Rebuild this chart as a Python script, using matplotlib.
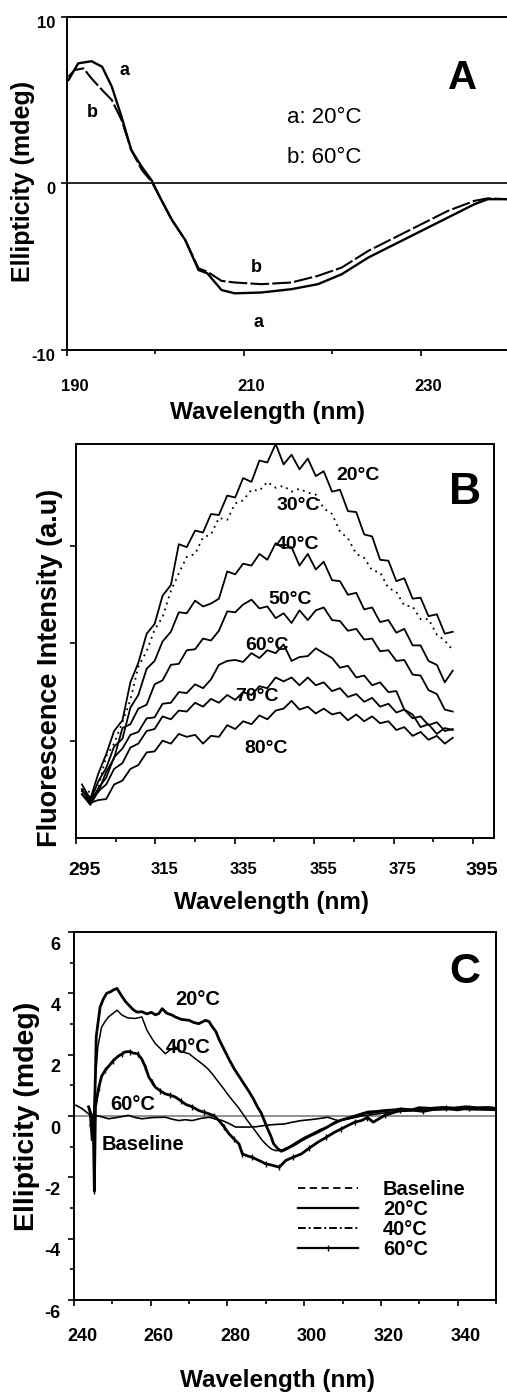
import numpy as np
import matplotlib
matplotlib.use("Agg")
import matplotlib.pyplot as plt
import matplotlib.transforms as mtrans
from matplotlib.lines import Line2D

plt.rcParams['font.family'] = ['Liberation Sans', 'DejaVu Sans']
plt.rcParams['font.weight'] = 'bold'
plt.rcParams['axes.labelweight'] = 'bold'
plt.rcParams['axes.unicode_minus'] = False

# ---------------- Panel A data (far-UV CD) ----------------
A_WL_20 = [190.2, 191.3, 192.8, 194.0, 195.1, 196.2, 197.3, 198.5, 199.6, 200.7, 201.9, 203.4,
           204.9, 205.9, 207.5, 209.0, 212.0, 215.4, 218.4, 221.1, 224.1, 227.1, 230.1, 233.1,
           236.1, 237.6, 240.0]
A_20C = [6.2, 7.2, 7.33, 7.0, 5.8, 4.0, 2.0, 0.98, 0.18, -1.0, -2.2, -3.4,
         -5.2, -5.4, -6.4, -6.6, -6.55, -6.35, -6.05, -5.45, -4.45, -3.65, -2.85, -2.05,
         -1.25, -0.95, -0.95]
A_WL_60 = [190.2, 190.9, 191.9, 192.8, 194.0, 195.1, 196.2, 197.3, 198.5, 199.6, 200.7, 201.9,
           203.4, 204.9, 205.9, 207.5, 209.0, 212.0, 215.4, 218.4, 221.1, 224.1, 227.1, 230.1,
           233.1, 236.1, 237.6, 240.0]
A_60C = [6.4, 6.8, 6.9, 6.3, 5.6, 5.0, 3.8, 2.0, 0.8, 0.1, -1.0, -2.2,
         -3.4, -5.1, -5.3, -5.85, -5.95, -6.05, -5.95, -5.55, -5.05, -4.05, -3.25, -2.45,
         -1.65, -1.05, -0.9, -0.95]

# ---------------- Panel B data (fluorescence) ----------------
B_WL = [296.5, 298.6, 300.6, 302.6, 304.6, 306.7, 308.7, 310.7, 312.8, 314.8, 316.8, 318.9,
        320.9, 322.9, 325.0, 327.0, 329.0, 331.0, 333.1, 335.1, 337.1, 339.2, 341.2, 343.2,
        345.3, 347.3, 349.3, 351.3, 353.4, 355.4, 357.4, 359.5, 361.5, 363.5, 365.6, 367.6,
        369.6, 371.6, 373.7, 375.7, 377.7, 379.8, 381.8, 383.8, 385.9, 387.9, 389.9]
B_20C = [0.55, 0.40, 0.66, 0.86, 1.10, 1.21, 1.60, 1.80, 2.10, 2.20, 2.49, 2.60, 3.02, 2.99, 3.16, 3.14,
         3.33, 3.32, 3.52, 3.50, 3.70, 3.66, 3.88, 3.86, 4.05, 3.84, 3.94, 3.79, 3.90, 3.72, 3.77, 3.56,
         3.58, 3.36, 3.35, 3.12, 3.10, 2.86, 2.85, 2.64, 2.67, 2.46, 2.47, 2.28, 2.30, 2.10, 2.12]
B_30C = [0.50, 0.47, 0.52, 0.84, 0.97, 1.19, 1.42, 1.76, 1.92, 2.14, 2.27, 2.54, 2.72, 2.89, 2.92, 3.09,
         3.12, 3.29, 3.27, 3.44, 3.47, 3.58, 3.57, 3.66, 3.60, 3.62, 3.56, 3.59, 3.55, 3.53, 3.39, 3.33,
         3.15, 3.08, 2.92, 2.88, 2.75, 2.73, 2.57, 2.53, 2.39, 2.38, 2.25, 2.25, 2.09, 2.03, 1.93]
B_40C = [0.50, 0.38, 0.58, 0.72, 0.94, 1.02, 1.34, 1.47, 1.74, 1.82, 2.02, 2.12, 2.32, 2.31, 2.44, 2.38,
         2.41, 2.46, 2.74, 2.71, 2.82, 2.80, 2.92, 2.86, 3.03, 2.98, 2.99, 2.80, 2.92, 2.76, 2.84, 2.65,
         2.64, 2.50, 2.52, 2.35, 2.37, 2.22, 2.24, 2.11, 2.15, 1.98, 1.98, 1.82, 1.78, 1.60, 1.72]
B_50C = [0.48, 0.42, 0.47, 0.68, 0.82, 1.13, 1.17, 1.33, 1.37, 1.58, 1.62, 1.78, 1.79, 1.93, 1.94, 2.05,
         2.03, 2.13, 2.33, 2.32, 2.40, 2.45, 2.36, 2.38, 2.26, 2.31, 2.21, 2.34, 2.24, 2.34, 2.37, 2.24,
         2.23, 2.13, 2.15, 2.04, 2.05, 1.92, 1.93, 1.82, 1.83, 1.68, 1.67, 1.52, 1.48, 1.32, 1.30]
B_60C = [0.45, 0.36, 0.51, 0.62, 0.83, 0.92, 1.06, 1.09, 1.23, 1.24, 1.38, 1.39, 1.50, 1.49, 1.58, 1.54,
         1.63, 1.78, 1.82, 1.83, 1.81, 1.90, 1.85, 1.93, 1.90, 1.99, 1.82, 1.86, 1.87, 1.95, 1.90, 1.85,
         1.75, 1.77, 1.65, 1.67, 1.57, 1.60, 1.50, 1.51, 1.32, 1.27, 1.14, 1.17, 1.07, 1.13, 1.11]
B_70C = [0.45, 0.34, 0.48, 0.55, 0.71, 0.77, 0.93, 0.97, 1.10, 1.12, 1.25, 1.22, 1.31, 1.30, 1.39, 1.35,
         1.43, 1.39, 1.47, 1.42, 1.50, 1.47, 1.56, 1.54, 1.65, 1.61, 1.65, 1.57, 1.65, 1.57, 1.60, 1.51,
         1.54, 1.45, 1.48, 1.40, 1.44, 1.35, 1.38, 1.29, 1.32, 1.23, 1.25, 1.16, 1.19, 1.10, 1.12]
B_80C = [0.50, 0.36, 0.39, 0.40, 0.55, 0.59, 0.71, 0.75, 0.88, 0.89, 1.00, 0.97, 1.07, 1.04, 1.06, 0.97,
         1.05, 1.04, 1.16, 1.12, 1.20, 1.17, 1.26, 1.22, 1.31, 1.33, 1.41, 1.32, 1.35, 1.28, 1.33, 1.27,
         1.29, 1.21, 1.27, 1.20, 1.25, 1.18, 1.20, 1.11, 1.14, 1.05, 1.09, 1.01, 1.05, 0.97, 1.03]
B_LABELS = ['20°C', '30°C', '40°C', '50°C', '60°C', '70°C', '80°C']
B_XTICKS = [295, 315, 335, 355, 375, 395]

# ---------------- Panel C data (near-UV CD) ----------------
C_WL_20 = [243.8, 244.6, 245.0, 245.4, 245.8, 246.8, 247.6, 248.5, 249.5, 250.4, 251.2, 252.5,
           253.5, 254.7, 255.6, 256.4, 257.7, 259.0, 260.2, 261.2, 262.1, 263.0, 264.2, 265.4,
           266.4, 268.0, 270.0, 271.2, 272.5, 274.3, 275.2, 276.0, 277.0, 277.8, 279.0, 280.4,
           281.7, 283.0, 284.3, 285.6, 286.8, 287.8, 288.8, 289.6, 290.4, 291.3, 292.0, 293.0,
           294.0, 295.0, 296.5, 298.0, 299.2, 301.0, 303.5, 305.5, 307.9, 310.0, 312.2, 314.5,
           316.6, 319.0, 321.0, 323.5, 325.3, 328.0, 330.0, 333.0, 336.0, 339.0, 342.0, 345.0,
           348.0, 350.0]
C_20C = [0.3, 0.0, -0.6, 0.4, 2.6, 3.55, 3.8, 4.0, 4.05, 4.12, 4.16, 3.9,
         3.72, 3.56, 3.45, 3.39, 3.4, 3.33, 3.38, 3.3, 3.34, 3.5, 3.35, 3.3,
         3.23, 3.15, 3.12, 3.05, 3.01, 3.12, 3.08, 2.92, 2.75, 2.5, 2.2, 1.85,
         1.55, 1.3, 1.05, 0.8, 0.55, 0.3, 0.1, -0.15, -0.4, -0.65, -0.9, -1.05,
         -1.15, -1.1, -1.0, -0.9, -0.8, -0.68, -0.53, -0.4, -0.22, -0.12, -0.04, 0.05,
         0.13, 0.15, 0.18, 0.2, 0.23, 0.2, 0.27, 0.25, 0.28, 0.26, 0.3, 0.27,
         0.28, 0.25]
C_WL_40 = [244.0, 244.6, 245.2, 245.6, 246.2, 247.2, 248.2, 249.0, 250.2, 251.2, 252.5, 254.0,
           256.0, 257.7, 259.0, 260.2, 261.2, 262.5, 263.8, 265.0, 266.4, 268.0, 270.0, 271.5,
           273.4, 274.8, 276.0, 277.4, 278.7, 280.0, 281.3, 282.7, 284.0, 285.2, 286.5, 287.8,
           289.1, 290.5, 291.5, 292.6, 294.0, 296.1, 298.0, 300.0, 302.0, 304.0, 306.0, 308.0,
           310.0, 312.0, 314.0, 316.0, 318.0, 320.0, 323.0, 326.0, 330.0, 334.0, 338.0, 342.0,
           346.0, 350.0]
C_40C = [0.2, -0.8, 0.2, 1.2, 2.25, 2.9, 3.1, 3.23, 3.35, 3.45, 3.29, 3.2,
         3.18, 3.23, 2.8, 2.55, 2.36, 2.2, 2.03, 2.15, 2.25, 2.1, 2.03, 1.88,
         1.7, 1.55, 1.38, 1.15, 0.94, 0.72, 0.51, 0.3, 0.07, -0.15, -0.36, -0.58,
         -0.8, -0.98, -1.08, -1.13, -1.12, -1.0, -0.85, -0.7, -0.58, -0.45, -0.35, -0.25,
         -0.12, -0.05, 0.0, 0.08, 0.1, 0.14, 0.18, 0.2, 0.22, 0.25, 0.24, 0.28,
         0.25, 0.22]
C_WL_60 = [244.4, 245.0, 245.3, 245.6, 246.4, 247.2, 248.2, 249.0, 250.2, 251.5, 252.5, 253.3,
           254.5, 255.5, 256.6, 257.7, 258.6, 259.5, 260.4, 261.2, 262.5, 263.8, 265.0, 266.4,
           267.8, 269.1, 270.8, 272.5, 274.0, 275.2, 276.5, 277.8, 279.1, 280.4, 281.7, 283.0,
           283.9, 285.2, 286.5, 288.2, 290.0, 291.5, 293.5, 295.2, 297.0, 299.2, 301.3, 303.5,
           305.7, 307.9, 309.7, 311.4, 313.2, 314.9, 316.5, 318.0, 321.0, 323.0, 325.0, 328.0,
           331.0, 334.0, 337.0, 340.0, 343.0, 346.0, 350.0]
C_60C = [-0.3, 0.0, -2.45, 0.3, 0.9, 1.3, 1.5, 1.62, 1.8, 1.95, 2.02, 2.09,
         2.1, 2.05, 2.03, 1.85, 1.6, 1.27, 1.1, 0.94, 0.82, 0.72, 0.68, 0.62,
         0.5, 0.38, 0.3, 0.18, 0.12, 0.07, 0.0, -0.15, -0.35, -0.58, -0.75, -0.91,
         -1.24, -1.3, -1.35, -1.45, -1.56, -1.6, -1.67, -1.45, -1.35, -1.24, -1.05, -0.86,
         -0.7, -0.53, -0.42, -0.31, -0.2, -0.15, -0.05, -0.2, 0.02, 0.1, 0.18, 0.2,
         0.15, 0.22, 0.25, 0.2, 0.27, 0.24, 0.2]
C_WL_BASE = [240.5, 242.0, 243.5, 244.6, 245.5, 247.0, 249.0, 251.6, 254.2, 256.0, 257.7, 260.5,
             263.8, 265.5, 267.3, 269.0, 270.8, 273.0, 275.2, 277.0, 278.7, 280.5, 282.1, 284.0,
             285.6, 287.5, 289.6, 292.0, 294.8, 297.0, 299.2, 301.5, 303.5, 306.1, 308.8, 311.4,
             314.9, 318.0, 321.0, 325.0, 330.0, 335.0, 340.0, 345.0, 350.0]
C_BASE = [0.35, 0.25, 0.1, 0.0, 0.02, -0.02, -0.09, -0.04, 0.02, -0.05, -0.09, -0.05,
          -0.04, -0.1, -0.15, -0.12, -0.15, -0.08, -0.04, -0.1, -0.15, -0.25, -0.36, -0.36,
          -0.36, -0.35, -0.31, -0.28, -0.26, -0.2, -0.15, -0.12, -0.09, -0.04, -0.15, -0.1,
          0.0, 0.05, 0.1, 0.15, 0.18, 0.2, 0.22, 0.2, 0.2]
C_LEGEND = ['Baseline', '20°C', '40°C', '60°C']

# ---------------- figure ----------------
W, H = 507, 1393
fig = plt.figure(figsize=(W / 100, H / 100), dpi=100)


def rect(l, r, t, b):
    return [l / W, 1 - b / H, (r - l) / W, (b - t) / H]


def shift_ticklabels(labels, dx, dy):
    off = mtrans.ScaledTranslation(dx / 100, -dy / 100, fig.dpi_scale_trans)
    for lab in labels:
        lab.set_transform(lab.get_transform() + off)


axA = fig.add_axes(rect(66.7, 509, 16.7, 350))
axB = fig.add_axes(rect(76, 494, 444, 838))
axC = fig.add_axes(rect(74, 496, 932, 1300))
for ax in (axA, axB, axC):
    for s in ax.spines.values():
        s.set_linewidth(1.4)
    ax.tick_params(which='both', direction='out', width=1.2, color='k')
    ax.tick_params(which='major', length=4)
    ax.tick_params(which='minor', length=3)

# ---- Panel A ----
axA.plot(A_WL_20, A_20C, color='k', lw=1.7)
axA.plot(A_WL_60, A_60C, color='k', lw=1.5, dashes=(9, 1.5))
axA.axhline(0, color='k', lw=1.2)
axA.set_xlim(190, 240)
axA.set_ylim(-10, 10)
axA.spines['right'].set_visible(False)
axA.set_xticks([190, 210, 230])
axA.set_xticks([200, 220], minor=True)
axA.set_yticks([-10, 0, 10])
axA.tick_params(axis='x', labelsize=12, pad=17)
axA.tick_params(axis='y', labelsize=12, pad=4)
axA.set_xlabel('Wavelength (nm)', fontsize=17.5)
axA.set_ylabel('Ellipticity (mdeg)', fontsize=18)
axA.xaxis.set_label_coords((268 - 66.7) / 442.3, (350 - 412) / 333.3)
axA.yaxis.set_label_coords((23 - 66.7) / 442.3, (350 - 181) / 333.3)
axA.xaxis.label.set_va('center')
axA.yaxis.label.set_va('center')
axA.text(196.5, 6.77, 'a', fontsize=13, ha='center', va='center')
axA.text(192.9, 4.25, 'b', fontsize=13, ha='center', va='center')
axA.text(211.4, -5.06, 'b', fontsize=13, ha='center', va='center')
axA.text(211.7, -8.37, 'a', fontsize=13, ha='center', va='center')
axA.text(214.9, 3.95, 'a: 20°C', fontsize=16, fontweight='normal', ha='left', va='center')
axA.text(214.9, 1.54, 'b: 60°C', fontsize=16, fontweight='normal', ha='left', va='center')
axA.text(234.7, 6.34, 'A', fontsize=29, ha='center', va='center')
shift_ticklabels(axA.get_xticklabels(), 8, 0)
shift_ticklabels(axA.get_yticklabels(), 0, 5)

# ---- Panel B ----
b_series = [B_20C, B_30C, B_40C, B_50C, B_60C, B_70C, B_80C]
for lab, ys in zip(B_LABELS, b_series):
    if lab == '30°C':
        axB.plot(B_WL, ys, color='k', lw=1.3, ls=(0, (1, 2.5)))
    else:
        axB.plot(B_WL, ys, color='k', lw=1.3)
axB.set_xlim(295, 400.3)
axB.set_ylim(0, 4.05)
axB.set_xticks(B_XTICKS)
axB.set_xticklabels([str(v) for v in B_XTICKS])
axB.set_xticks([305, 325, 345, 365, 385], minor=True)
axB.set_yticks([1, 2, 3])
axB.set_yticklabels([])
axB.tick_params(axis='x', labelsize=12, pad=13.5)
for i, lab in enumerate(axB.get_xticklabels()):
    if i in (0, len(B_XTICKS) - 1):
        lab.set_fontsize(14)
axB.set_xlabel('Wavelength (nm)', fontsize=17.5)
axB.set_ylabel('Fluorescence Intensity (a.u)', fontsize=19.5)
axB.xaxis.set_label_coords((272 - 76) / 418, (838 - 902) / 394)
axB.yaxis.set_label_coords((50 - 76) / 418, (838 - 668) / 394)
axB.xaxis.label.set_va('center')
axB.yaxis.label.set_va('center')
narrow = ['Liberation Sans Narrow', 'Liberation Sans', 'DejaVu Sans']
b_lab_pos = [(366.0, 3.73), (350.9, 3.42), (350.7, 3.02), (348.9, 2.45),
             (343.1, 1.98), (340.6, 1.45), (342.9, 0.92)]
for lab, (x, y) in zip(B_LABELS, b_lab_pos):
    axB.text(x, y, lab, fontsize=14, family=narrow, ha='center', va='center')
axB.text(393.0, 3.55, 'B', fontsize=32, ha='center', va='center')
shift_ticklabels(axB.get_xticklabels(), 9, 0)

# ---- Panel C ----
axC.axhline(0, color='0.45', lw=1.1)
axC.plot(C_WL_BASE, C_BASE, color='k', lw=1.2)
axC.plot(C_WL_20, C_20C, color='k', lw=2.0)
axC.plot(C_WL_40, C_40C, color='k', lw=1.1)
axC.plot(C_WL_60, C_60C, color='k', lw=2.0, marker='|', ms=4, mew=1.0, markevery=2)
axC.set_xlim(240, 350)
axC.set_ylim(-6, 6)
axC.set_xticks([240, 260, 280, 300, 320, 340])
axC.set_xticks([250, 270, 290, 310, 330, 350], minor=True)
axC.set_yticks([-6, -4, -2, 0, 2, 4, 6])
axC.set_yticks([-5, -3, -1, 1, 3, 5], minor=True)
axC.tick_params(axis='x', labelsize=13, pad=16)
axC.tick_params(axis='y', labelsize=13, pad=5.5)
axC.set_xlabel('Wavelength (nm)', fontsize=17.5)
axC.set_ylabel('Ellipticity (mdeg)', fontsize=20.5)
axC.xaxis.set_label_coords((277 - 74) / 422, (1300 - 1380) / 368)
axC.yaxis.set_label_coords((27 - 74) / 422, (1300 - 1116) / 368)
axC.xaxis.label.set_va('center')
axC.yaxis.label.set_va('center')
axC.text(272.2, 3.79, '20°C', fontsize=14.5, ha='center', va='center')
axC.text(269.8, 2.22, '40°C', fontsize=14.5, ha='center', va='center')
axC.text(255.2, 0.39, '60°C', fontsize=14.5, ha='center', va='center')
axC.text(258.1, -0.92, 'Baseline', fontsize=14.5, ha='center', va='center')
axC.text(341.8, 4.7, 'C', fontsize=31, ha='center', va='center')
handles = [Line2D([], [], color='k', lw=1.3, ls=(0, (4, 2.5))),
           Line2D([], [], color='k', lw=1.6),
           Line2D([], [], color='k', lw=1.4, ls=(0, (4, 1.5, 1, 1.5))),
           Line2D([], [], color='k', lw=1.6, marker='|', ms=4)]
axC.legend(handles, C_LEGEND, loc='upper left', bbox_to_anchor=(298 / W, 1 - 1180 / H),
           bbox_transform=fig.transFigure, frameon=False, fontsize=14.5, numpoints=1,
           handlelength=2.98, handletextpad=1.24, labelspacing=0.05, borderpad=0,
           borderaxespad=0)
shift_ticklabels(axC.get_xticklabels(), 8, 0)
shift_ticklabels(axC.get_yticklabels(), 0, 11)

fig.savefig('out.png', dpi=100)
